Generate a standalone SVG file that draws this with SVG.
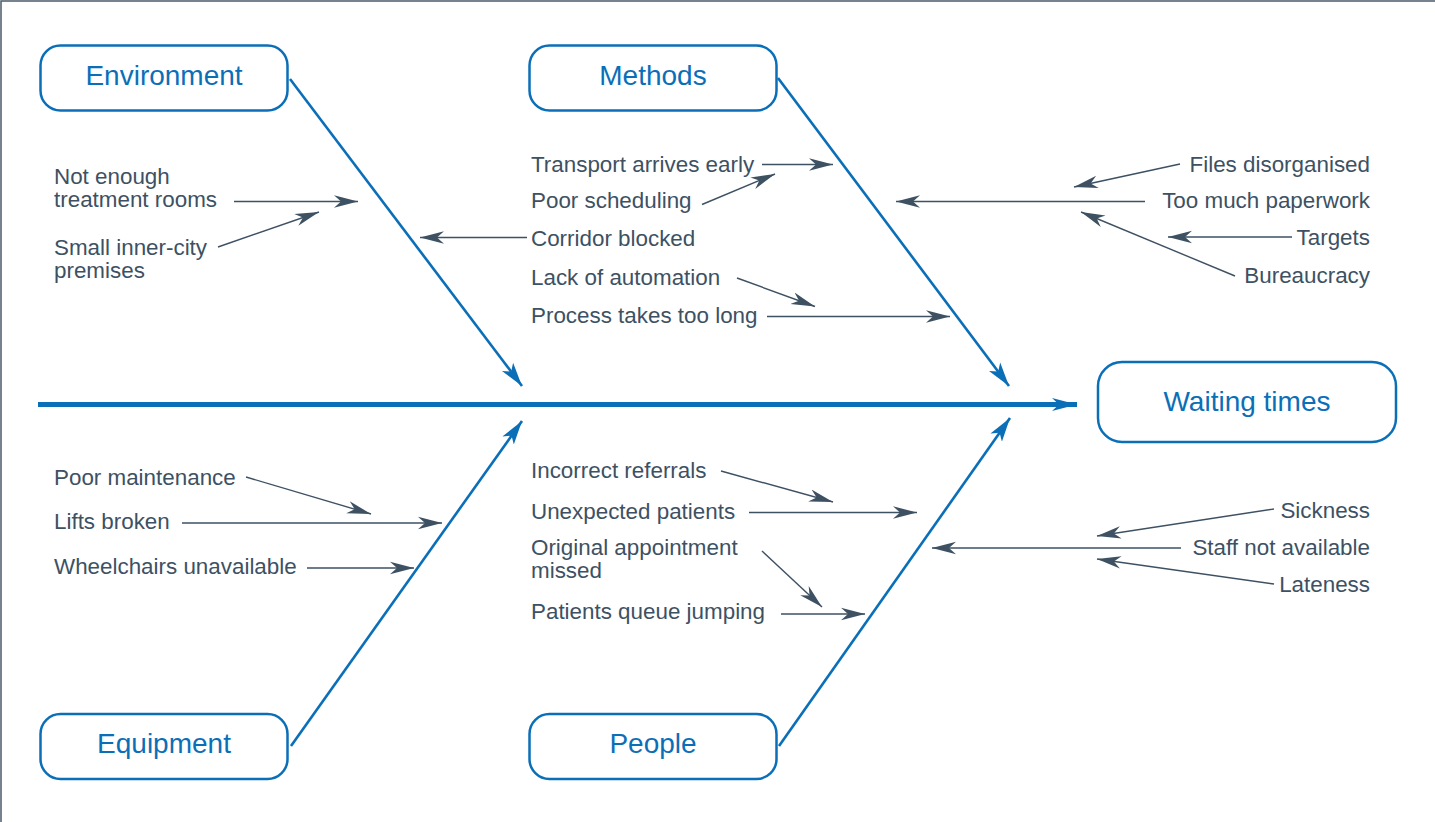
<svg xmlns="http://www.w3.org/2000/svg" width="1435" height="822" viewBox="0 0 1435 822">
  <style>
    .box { fill: #ffffff; stroke: #0b6fb8; stroke-width: 2.5; }
    .head { font-family: "Liberation Sans", Arial, sans-serif; font-size: 28px; fill: #0b6fb8; text-anchor: middle; }
    .lbl { font-family: "Liberation Sans", Arial, sans-serif; font-size: 22.4px; fill: #3d5163; }
    .end { text-anchor: end; }
    .cause { stroke: #3d5163; stroke-width: 1.4; fill: none; marker-end: url(#ah); }
    .bone { stroke: #0b6fb8; stroke-width: 2.6; fill: none; marker-end: url(#bh); }
    .spine { stroke: #0b6fb8; stroke-width: 4.8; fill: none; marker-end: url(#sh); }
    .frame { stroke: #4a5b69; stroke-width: 1.5; fill: none; }
  </style>
  <defs>
    <marker id="ah" markerUnits="userSpaceOnUse" markerWidth="26" markerHeight="16" viewBox="0 0 26 16" refX="24" refY="8" orient="auto">
      <path d="M0,1.8 L24,8 L0,14.2 L7,8 Z" fill="#3d5163"/>
    </marker>
    <marker id="bh" markerUnits="userSpaceOnUse" markerWidth="26" markerHeight="18" viewBox="0 0 26 18" refX="24" refY="9" orient="auto">
      <path d="M0,2 L24,9 L0,16 L6,9 Z" fill="#0b6fb8"/>
    </marker>
    <marker id="sh" markerUnits="userSpaceOnUse" markerWidth="26" markerHeight="16" viewBox="0 0 26 16" refX="25" refY="8" orient="auto">
      <path d="M0,1.5 L25,8 L0,14.5 L7,8 Z" fill="#0b6fb8"/>
    </marker>
  </defs>

  <rect width="1435" height="822" fill="#ffffff"/>
  <!-- frame edges -->
  <path class="frame" d="M1,822 L1,1 L1435,1"/>

  <!-- connectors -->
  <g id="connectors">
    <line class="spine" x1="38" y1="404.5" x2="1077" y2="404.5"/>
    <line class="bone" x1="290" y1="79" x2="522" y2="386"/>
    <line class="bone" x1="778" y1="78" x2="1009" y2="386"/>
    <line class="bone" x1="291" y1="746" x2="522" y2="421"/>
    <line class="bone" x1="779" y1="746" x2="1010" y2="418"/>

    <!-- environment causes -->
    <line class="cause" x1="234" y1="201.5" x2="358" y2="201.5"/>
    <line class="cause" x1="218" y1="247" x2="319" y2="212"/>
    <line class="cause" x1="527" y1="237.5" x2="420" y2="237.5"/>

    <!-- methods causes -->
    <line class="cause" x1="762" y1="164.5" x2="833" y2="164.5"/>
    <line class="cause" x1="702" y1="204.5" x2="775" y2="174"/>
    <line class="cause" x1="737" y1="278" x2="815" y2="306.5"/>
    <line class="cause" x1="767" y1="316.5" x2="950" y2="316.5"/>
    <line class="cause" x1="1180" y1="164" x2="1074" y2="187"/>
    <line class="cause" x1="1145" y1="201.5" x2="896" y2="201.5"/>
    <line class="cause" x1="1292" y1="237" x2="1168" y2="237"/>
    <line class="cause" x1="1235" y1="276" x2="1081" y2="212"/>

    <!-- equipment causes -->
    <line class="cause" x1="246" y1="477" x2="371" y2="514"/>
    <line class="cause" x1="182" y1="523" x2="442" y2="523"/>
    <line class="cause" x1="307" y1="568" x2="414" y2="568"/>

    <!-- people causes -->
    <line class="cause" x1="721" y1="471" x2="833" y2="502"/>
    <line class="cause" x1="749" y1="512.5" x2="917" y2="512.5"/>
    <line class="cause" x1="762" y1="551" x2="822" y2="607"/>
    <line class="cause" x1="781" y1="614" x2="865" y2="614"/>
    <line class="cause" x1="1274" y1="509" x2="1097" y2="536"/>
    <line class="cause" x1="1181" y1="548" x2="932" y2="548"/>
    <line class="cause" x1="1274" y1="584" x2="1097" y2="559"/>
  </g>

  <!-- category boxes -->
  <g id="environment">
    <rect class="box" x="40.5" y="45.5" width="247" height="65" rx="20"/>
    <text class="head" x="164" y="85">Environment</text>
  </g>
  <g id="methods">
    <rect class="box" x="529.5" y="45.5" width="247" height="65" rx="20"/>
    <text class="head" x="653" y="85">Methods</text>
  </g>
  <g id="equipment">
    <rect class="box" x="40.5" y="714" width="247" height="65" rx="20"/>
    <text class="head" x="164" y="753">Equipment</text>
  </g>
  <g id="people">
    <rect class="box" x="529.5" y="714" width="247" height="65" rx="20"/>
    <text class="head" x="653" y="753">People</text>
  </g>
  <g id="waiting-times">
    <rect class="box" x="1098" y="362" width="298" height="80" rx="24"/>
    <text class="head" x="1247" y="411">Waiting times</text>
  </g>

  <!-- cause labels -->
  <g id="environment-causes">
    <text class="lbl" x="54" y="184">Not enough<tspan x="54" dy="23">treatment rooms</tspan></text>
    <text class="lbl" x="54" y="255">Small inner-city<tspan x="54" dy="23">premises</tspan></text>
  </g>
  <g id="methods-causes">
    <text class="lbl" x="531" y="172">Transport arrives early</text>
    <text class="lbl" x="531" y="208">Poor scheduling</text>
    <text class="lbl" x="531" y="246">Corridor blocked</text>
    <text class="lbl" x="531" y="285">Lack of automation</text>
    <text class="lbl" x="531" y="323">Process takes too long</text>
    <text class="lbl end" x="1370" y="172">Files disorganised</text>
    <text class="lbl end" x="1370" y="208">Too much paperwork</text>
    <text class="lbl end" x="1370" y="245">Targets</text>
    <text class="lbl end" x="1370" y="283">Bureaucracy</text>
  </g>
  <g id="equipment-causes">
    <text class="lbl" x="54" y="485">Poor maintenance</text>
    <text class="lbl" x="54" y="529">Lifts broken</text>
    <text class="lbl" x="54" y="574">Wheelchairs unavailable</text>
  </g>
  <g id="people-causes">
    <text class="lbl" x="531" y="478">Incorrect referrals</text>
    <text class="lbl" x="531" y="519">Unexpected patients</text>
    <text class="lbl" x="531" y="555">Original appointment<tspan x="531" dy="23">missed</tspan></text>
    <text class="lbl" x="531" y="619">Patients queue jumping</text>
    <text class="lbl end" x="1370" y="518">Sickness</text>
    <text class="lbl end" x="1370" y="555">Staff not available</text>
    <text class="lbl end" x="1370" y="592">Lateness</text>
  </g>
</svg>
